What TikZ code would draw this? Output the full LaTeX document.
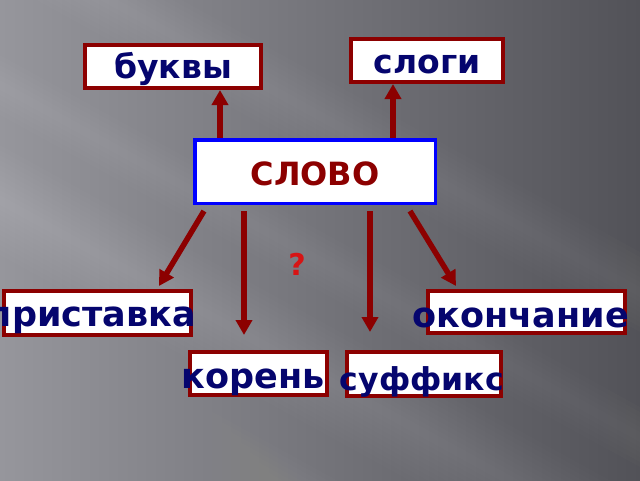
\documentclass[tikz,border=0pt]{standalone}
\usepackage{fontspec}
\setmainfont{DejaVu Sans}
\usetikzlibrary{arrows.meta}

\definecolor{darkred}{RGB}{140,0,0}
\definecolor{navy}{RGB}{5,5,110}
\definecolor{qred}{RGB}{215,20,20}
\definecolor{bgleft}{RGB}{150,150,156}
\definecolor{bgright}{RGB}{82,82,88}

\tikzset{
  box/.style={draw=darkred, line width=4pt, fill=white, inner sep=0pt},
  word/.style={text=navy, font=\bfseries\fontsize{#1}{#1}\selectfont, inner sep=0pt},
  word/.default=33,
  arr/.style={draw=darkred, line width=5.5pt, -{Triangle[width=16pt,length=15pt]}},
}

\begin{document}
\begin{tikzpicture}[x=1pt,y=-1pt]
  % background
  \shade[left color=bgleft, right color=bgright] (0,0) rectangle (640,480);
  \useasboundingbox (0,0) rectangle (640,480);
  % soft light streaks
  \foreach \c/\o/\m in {85/0.012/30, 200/0.013/55, 330/0.009/35, -60/0.01/40} {
    \foreach \w in {5,10,...,\m} {
      \fill[white, opacity=\o] (0,\c-\w) -- (640,\c-\w+352) -- (640,\c+\w+352) -- (0,\c+\w) -- cycle;
    }
  }

  \node[box, word, minimum width=176pt, minimum height=43pt, text height=23pt, text depth=0pt] (bukvy) at (173,66.5) {буквы};
  \node[box, word, minimum width=152pt, minimum height=43pt, text height=25pt, text depth=0pt] (slogi) at (427,60.5) {слоги};
  \node[box, draw=blue, line width=3.5pt, minimum width=240.5pt, minimum height=63.5pt,
        text=darkred, font=\bfseries\fontsize{32}{32}\selectfont, text height=27pt, text depth=0pt] (slovo) at (315,171.5) {СЛОВО};

  \node[box, minimum width=187pt, minimum height=44pt] (prist) at (97.5,313) {};
  \node[box, minimum width=197pt, minimum height=42pt] (okonch) at (526.5,312) {};
  \node[box, minimum width=137pt, minimum height=43pt] (koren) at (258.5,373.5) {};
  \node[box, minimum width=154pt, minimum height=44pt] (suff) at (424,374) {};

  \node[word=35, anchor=base east] (tPrist) at (196,326) {приставка};
  \node[word=35, anchor=base east] (tOkonch) at (629,327) {окончание};
  \node[word=35, anchor=base east] (tKoren) at (325,388) {корень};
  \node[word=31.5, anchor=base east] (tSuff) at (504,390) {суффикс};

  \node[text=qred, font=\bfseries\fontsize{30}{30}\selectfont, inner sep=0pt] (q) at (297,264) {?};

  % arrow ends
  \coordinate (upB) at ([xshift=-95pt]slovo.north);
  \coordinate (upS) at ([xshift=78pt]slovo.north);
  \coordinate (tipP) at (159,286);
  \coordinate (tipK) at (244,335);
  \coordinate (tipS) at (370,332);
  \coordinate (tipO) at (456,286);

  \draw[arr] (upB) -- (upB |- bukvy.south);
  \draw[arr] (upS) -- (upS |- slogi.south);
  \draw[arr] ([xshift=-111pt,yshift=-6pt]slovo.south) -- (tipP);
  \draw[arr] ([xshift=-71pt,yshift=-6pt]slovo.south) -- (tipK);
  \draw[arr] ([xshift=55pt,yshift=-6pt]slovo.south) -- (tipS);
  \draw[arr] ([xshift=95pt,yshift=-6pt]slovo.south) -- (tipO);
\end{tikzpicture}
\end{document}
